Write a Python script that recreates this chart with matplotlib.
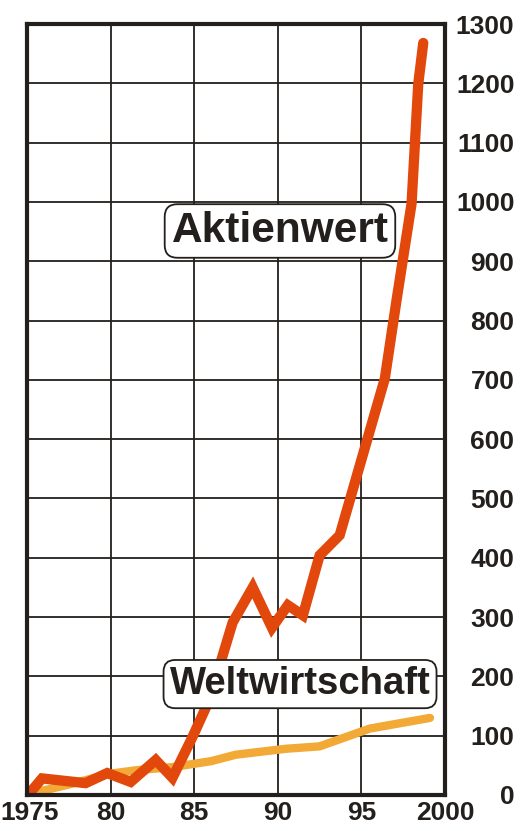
import matplotlib
matplotlib.use("Agg")
import matplotlib.pyplot as plt
from matplotlib.transforms import ScaledTranslation

plt.rcParams['font.family'] = ['Liberation Sans', 'DejaVu Sans']

# Data
aktien_years = [1975.3, 1975.9, 1978.5, 1979.8, 1981.2, 1982.7, 1983.7, 1984.9, 1985.9,
                1987.3, 1988.5, 1989.65, 1990.6, 1991.5, 1992.5, 1993.7, 1996.4,
                1997.1, 1998.0, 1998.4, 1998.7]
aktien_values = [8, 28, 20, 37, 22, 59, 29, 98, 160,
                 291, 350, 282, 320, 303, 404, 438, 702,
                 834, 997, 1199, 1268]

welt_years = [1975.3, 1977.4, 1980.0, 1981.6, 1983.7, 1986.0, 1987.5, 1990.5, 1992.5, 1995.5, 1999.1]
welt_values = [3, 17, 36, 42, 47, 57, 68, 78, 82, 112, 130]

x_ticks = [1975, 1980, 1985, 1990, 1995, 2000]
x_labels = ['1975', '80', '85', '90', '95', '2000']
y_ticks = list(range(0, 1301, 100))
y_labels = [str(v) for v in y_ticks]

label_aktien = 'Aktienwert'
label_welt = 'Weltwirtschaft'

dark = '#231F1C'
red = '#E2470B'
orange = '#F2A935'

fig = plt.figure(figsize=(5.2, 8.31), dpi=100)
ax = fig.add_axes([27/520, 36/831, 418/520, 771/831])

ax.plot(welt_years, welt_values, color=orange, lw=6.0, solid_capstyle='round',
        solid_joinstyle='miter', zorder=3)
ax.plot(aktien_years, aktien_values, color=red, lw=7.4, solid_capstyle='round',
        solid_joinstyle='miter', zorder=4)

ax.set_xlim(1975, 2000)
ax.set_ylim(0, 1300)
ax.set_xticks(x_ticks)
ax.set_xticklabels(x_labels)
ax.set_yticks(y_ticks)
ax.set_yticklabels(y_labels)

ax.grid(True, color=dark, lw=1.3, zorder=1)
ax.set_axisbelow(True)
for s in ax.spines.values():
    s.set_color(dark)
    s.set_linewidth(3.0)
    s.set_zorder(5)

ax.yaxis.tick_right()
ax.tick_params(axis='both', length=0, labelsize=19, labelcolor=dark)
ax.tick_params(axis='y', pad=50)
for t in ax.get_yticklabels():
    t.set_fontweight('bold')
    t.set_horizontalalignment('right')
for t in ax.get_xticklabels():
    t.set_fontweight('bold')
ax.tick_params(axis='x', pad=4)
# keep the first x label inside the figure
first = ax.get_xticklabels()[0]
first.set_transform(first.get_transform() + ScaledTranslation(3/100, 0, fig.dpi_scale_trans))

box = dict(boxstyle='round,pad=0.16,rounding_size=0.3', fc='white', ec=dark, lw=1.3)
ax.text(1990.13, 951, label_aktien, fontsize=30.5, fontweight='bold', color=dark,
        ha='center', va='center', bbox=box, zorder=6)
ax.text(1991.33, 187, label_welt, fontsize=27.5, fontweight='bold', color=dark,
        ha='center', va='center', bbox=box, zorder=6)

fig.savefig('out.png', dpi=100)
